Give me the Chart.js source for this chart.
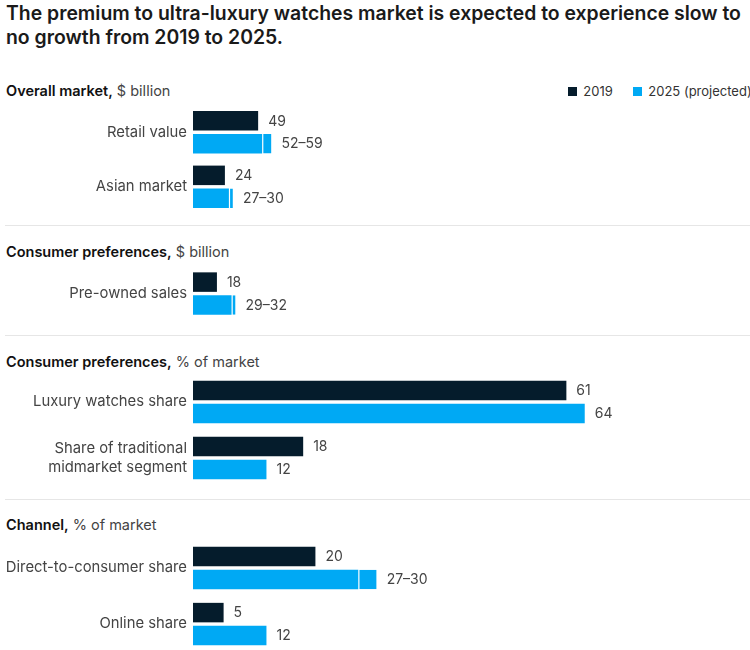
<!DOCTYPE html>
<html><head><meta charset="utf-8">
<script src="https://cdn.jsdelivr.net/npm/chart.js@4.4.1/dist/chart.umd.min.js"></script>
<style>
html,body{margin:0;padding:0;background:#fff;width:750px;height:650px;overflow:hidden;}
body{position:relative;font-family:Inter,'Noto Sans',sans-serif;}
.title{position:absolute;left:6px;top:1px;font-size:19.4px;line-height:24.3px;font-weight:600;color:#1a1a1a;white-space:nowrap;}
.hdr{position:absolute;left:6px;font-size:14.5px;line-height:18px;color:#444;white-space:nowrap;}
.hdr b{font-weight:600;color:#111;}
.sep{position:absolute;left:5px;width:745px;height:1px;background:#e6e6e6;}
.sec{position:absolute;left:0;}
.leg{position:absolute;top:82px;font-size:13px;line-height:18px;color:#333;white-space:nowrap;}
.leg i{position:absolute;top:5px;left:0;width:9px;height:9px;}
.leg span{position:absolute;left:15px;top:0;}
</style>
</head><body>
<div class="title" id="title"></div>
<div id="root"></div>
<script>
// ---------- data ----------
const titleLines = ['The premium to ultra-luxury watches market is expected to experience slow to', 'no growth from 2019 to 2025.'];
const seriesNames = ['2019', '2025 (projected)'];
const sectionTitles = ['Overall market,', 'Consumer preferences,', 'Consumer preferences,', 'Channel,'];
const sectionUnits = ['$ billion', '$ billion', '% of market', '% of market'];
const categories = [
  ['Retail value', 'Asian market'],
  ['Pre-owned sales'],
  ['Luxury watches share', ['Share of traditional', 'midmarket segment']],
  ['Direct-to-consumer share', 'Online share']
];
const values2019 = [[49, 24], [18], [61, 18], [20, 5]];
const values2025Low = [[52, 27], [29], [64, 12], [27, 12]];
const values2025High = [[59, 30], [32], [null, null], [30, null]];

// ---------- styling / layout ----------
const colors = ['#051C2C', '#00A9F4'];
const FONT = 'Inter, "Noto Sans", sans-serif';
const sectionTop = [104.6, 266.3, 373.7, 540.3];
const sectionPitch = [54.5, 55, 56, 56];
const headerCenter = [91, 252, 361.7, 525];
const separators = [225, 335, 499];
const axisMax = [419, 419, 91, 91];

document.getElementById('title').innerHTML = titleLines.join('<br>');
const root = document.getElementById('root');

separators.forEach(y => {
  const d = document.createElement('div'); d.className = 'sep'; d.style.top = y + 'px'; root.appendChild(d);
});
sectionTitles.forEach((t, i) => {
  const d = document.createElement('div'); d.className = 'hdr';
  d.style.top = (headerCenter[i] - 9) + 'px';
  d.innerHTML = '<b>' + t + '</b> ' + sectionUnits[i];
  root.appendChild(d);
});
const legX = [568.3, 633.3];
seriesNames.forEach((n, k) => {
  const d = document.createElement('div'); d.className = 'leg'; d.style.left = legX[k] + 'px';
  d.innerHTML = '<i style="background:' + colors[k] + '"></i><span>' + n + '</span>';
  root.appendChild(d);
});

function labelPlugin(i) {
  return {
    id: 'valueLabels' + i,
    afterDatasetsDraw(chart) {
      const ctx = chart.ctx;
      ctx.save();
      ctx.font = '14px ' + FONT;
      ctx.fillStyle = '#444';
      ctx.textBaseline = 'middle';
      ctx.textAlign = 'left';
      const m0 = chart.getDatasetMeta(0), m1 = chart.getDatasetMeta(1), m2 = chart.getDatasetMeta(2);
      categories[i].forEach((c, j) => {
        const a = m0.data[j];
        ctx.fillText(String(values2019[i][j]), a.x + 10, a.y + 0.5);
        const hi = values2025High[i][j];
        const b = hi == null ? m1.data[j] : m2.data[j];
        const txt = hi == null ? String(values2025Low[i][j]) : values2025Low[i][j] + '\u2013' + hi;
        ctx.fillText(txt, b.x + 10, b.y + 0.5);
      });
      ctx.restore();
    }
  };
}

categories.forEach((cats, i) => {
  const h = sectionPitch[i] * cats.length;
  const cv = document.createElement('canvas');
  cv.className = 'sec';
  cv.width = 750; cv.height = Math.round(h);
  cv.style.width = '750px'; cv.style.height = Math.round(h) + 'px';
  cv.style.top = sectionTop[i] + 'px';
  root.appendChild(cv);
  const catPct = 45.6 / sectionPitch[i];
  new Chart(cv.getContext('2d'), {
    type: 'bar',
    data: {
      labels: cats,
      datasets: [
        { label: seriesNames[0], data: values2019[i], backgroundColor: colors[0], stack: 'a', borderWidth: 0 },
        { label: seriesNames[1], data: values2025Low[i], backgroundColor: colors[1], stack: 'b', borderWidth: 0 },
        { label: seriesNames[1] + ' range',
          data: values2025High[i].map((v, j) => v == null ? null : v - values2025Low[i][j]),
          backgroundColor: colors[1], borderColor: '#ffffff',
          borderWidth: { left: 1.2, right: 0, top: 0, bottom: 0 }, borderSkipped: false, stack: 'b' }
      ]
    },
    options: {
      indexAxis: 'y',
      responsive: false,
      animation: false,
      devicePixelRatio: 1,
      layout: { padding: 0 },
      categoryPercentage: catPct,
      barPercentage: 19.5 / 22.8,
      plugins: { legend: { display: false }, tooltip: { enabled: false } },
      scales: {
        x: { display: false, stacked: true, min: 0, max: axisMax[i] },
        y: {
          stacked: true,
          grid: { display: false, drawTicks: false },
          border: { display: false },
          ticks: { autoSkip: false, padding: 6, color: '#444', font: { family: FONT, size: 14.8, lineHeight: 1.3 } },
          afterFit(s) { s.width = 193; s.paddingTop = 0; s.paddingBottom = 0; }
        }
      }
    },
    plugins: [labelPlugin(i)]
  });
});
</script>
</body></html>
